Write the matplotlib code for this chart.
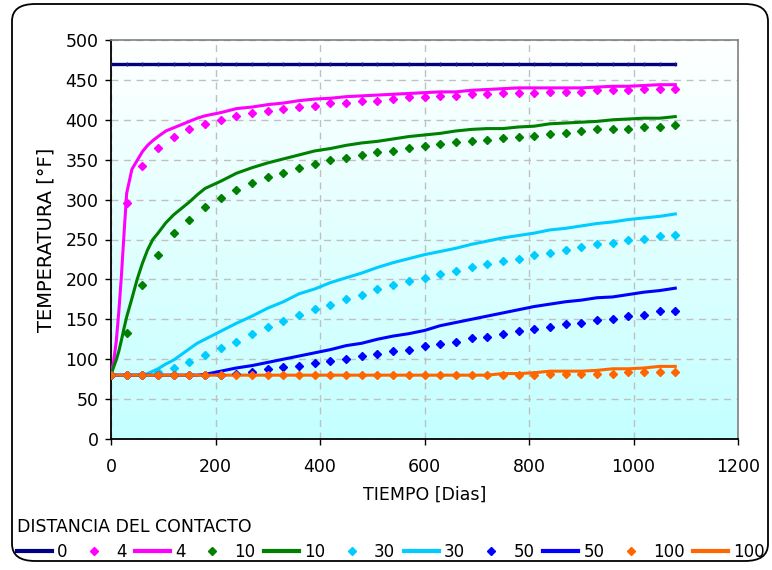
import numpy as np
import matplotlib
matplotlib.use('Agg')
import matplotlib.pyplot as plt
from matplotlib.colors import LinearSegmentedColormap
from matplotlib.patches import FancyBboxPatch
from matplotlib.lines import Line2D

plt.rcParams['font.family'] = ['DejaVu Sans']

# tiempos de los puntos simulados (cada 30 dias)
t_pts = [0, 30, 60, 90, 120, 150, 180, 210, 240, 270, 300, 330, 360, 390, 420, 450, 480, 510, 540,
         570, 600, 630, 660, 690, 720, 750, 780, 810, 840, 870, 900, 930, 960, 990, 1020, 1050, 1080]

pts_0 = [470] * 37
pts_4 = [80, 296, 342, 365, 379, 388, 395, 400, 405, 408, 411, 414, 416, 417, 421, 421, 423, 424, 426,
         428, 428, 430, 430, 432, 432, 434, 434, 434, 435, 435, 435, 437, 437, 437, 439, 439, 439]
pts_10 = [80, 133, 193, 231, 258, 275, 291, 302, 312, 321, 328, 333, 339, 344, 349, 352, 356, 360, 361,
          365, 367, 370, 372, 373, 375, 377, 379, 380, 382, 384, 386, 388, 388, 389, 391, 391, 393]
pts_30 = [80, 80, 80, 84, 89, 96, 105, 114, 122, 132, 140, 148, 156, 163, 168, 175, 181, 188, 193,
          198, 202, 207, 210, 215, 219, 223, 226, 230, 233, 237, 240, 244, 246, 249, 251, 254, 256]
pts_50 = [80, 80, 80, 80, 80, 80, 80, 80, 81, 84, 88, 90, 91, 95, 98, 100, 104, 107, 110,
          112, 116, 119, 122, 126, 128, 131, 135, 138, 140, 144, 145, 149, 151, 154, 156, 160, 161]
pts_100 = [80, 80, 80, 80, 80, 80, 80, 80, 80, 80, 80, 80, 80, 80, 80, 80, 80, 80, 80,
           80, 80, 80, 80, 80, 80, 80, 80, 80, 82, 82, 82, 82, 82, 84, 84, 84, 84]

# tiempos de las curvas analiticas
t_lin = [0, 5, 10, 15, 20, 25, 30, 40, 50, 60, 70, 80, 90, 105, 120, 135, 150, 165, 180,
         210, 240, 270, 300, 330, 360, 390, 420, 450, 480, 510, 540, 570, 600, 630,
         660, 690, 720, 750, 780, 810, 840, 870, 900, 930, 960, 990, 1020, 1050, 1080]

lin_0 = [0, 1080]
val_0 = [470, 470]
lin_4 = [80, 97, 122, 160, 205, 258, 308, 338, 349, 360, 368, 374, 379, 386, 390, 394, 398, 402, 405,
         409, 414, 416, 419, 421, 424, 426, 427, 429, 430, 431, 432, 433, 434, 435,
         435, 437, 438, 439, 440, 440, 440, 440, 440, 441, 442, 442, 443, 444, 444]
lin_10 = [80, 90, 99, 110, 124, 139, 153, 176, 200, 220, 237, 250, 258, 271, 281, 289, 297, 306, 314,
          323, 333, 340, 346, 351, 356, 361, 364, 368, 371, 373, 376, 379, 381, 383,
          386, 388, 389, 389, 391, 392, 395, 396, 397, 398, 400, 401, 402, 402, 404]
lin_30 = [80, 80, 80, 80, 80, 80, 80, 80, 80, 80, 82, 85, 88, 94, 99, 106, 113, 120, 125,
          135, 145, 154, 164, 172, 182, 188, 196, 202, 208, 215, 221, 226, 231, 235,
          239, 244, 248, 252, 255, 258, 262, 264, 267, 270, 272, 275, 277, 279, 282]
lin_50 = [80, 80, 80, 80, 80, 80, 80, 80, 80, 80, 80, 80, 80, 80, 80, 80, 80, 80, 81,
          85, 89, 92, 96, 100, 104, 108, 112, 117, 120, 125, 129, 132, 136, 142,
          146, 150, 154, 158, 162, 166, 169, 172, 174, 177, 178, 181, 184, 186, 189]
lin_100 = [80, 80, 80, 80, 80, 80, 80, 80, 80, 80, 80, 80, 80, 80, 80, 80, 80, 80, 80,
           80, 80, 80, 80, 80, 80, 80, 80, 80, 80, 80, 80, 80, 80, 80,
           80, 80, 80, 82, 82, 83, 85, 85, 85, 86, 88, 88, 89, 91, 91]

colores = {'0': '#000080', '4': '#ff00ff', '10': '#008000', '30': '#00ccff',
           '50': '#0000ff', '100': '#ff6600'}

fig = plt.figure(figsize=(7.72, 5.70), dpi=100)
W, H = 772, 570
ax = fig.add_axes([111 / W, 1 - 439 / H, (738 - 111) / W, 399 / H])

# fondo degradado blanco -> celeste
fondo = LinearSegmentedColormap.from_list('fondo', ['#ffffff', '#c4ffff'])
ax.imshow(np.linspace(0, 1, 256).reshape(-1, 1), extent=[0, 1, 0, 1], transform=ax.transAxes,
          aspect='auto', cmap=fondo, zorder=0)

ax.plot(lin_0, val_0, color=colores['0'], lw=2.4, zorder=3)
ax.plot(t_pts, pts_0, ls='none', marker='|', ms=3, mew=1, color='#202070', zorder=3)

series = [('4', pts_4, lin_4), ('10', pts_10, lin_10), ('30', pts_30, lin_30),
          ('50', pts_50, lin_50), ('100', pts_100, lin_100)]
for nombre, pts, lin in series:
    c = colores[nombre]
    ax.plot(t_lin, lin, color=c, lw=2.2, zorder=3)
    ax.plot(t_pts, pts, ls='none', marker='D', ms=4.5, color=c, mec=c, zorder=4)

ax.set_xlim(0, 1200)
ax.set_ylim(0, 500)
ax.set_xticks(range(0, 1201, 200))
ax.set_yticks(range(0, 501, 50))
ax.grid(True, color='#c0c0c0', ls=(0, (5, 4)), lw=1, zorder=1)
ax.set_axisbelow(True)
for lado in ['top', 'right']:
    ax.spines[lado].set_color('#808080')
    ax.spines[lado].set_linewidth(1.2)
for lado in ['left', 'bottom']:
    ax.spines[lado].set_color('black')
    ax.spines[lado].set_linewidth(1.3)
ax.tick_params(direction='out', length=4, width=1, labelsize=12.5, pad=5)
ax.tick_params(axis='x', pad=10)

ax.set_xlabel('TIEMPO [Dias]', fontsize=12.5, labelpad=7)
ax.set_ylabel('TEMPERATURA [°F]', fontsize=14)
ax.yaxis.set_label_coords(-56 / 627, 0.5)

# leyenda en una fila
handles, labels = [], []
for nombre in ['0', '4', '10', '30', '50', '100']:
    c = colores[nombre]
    if nombre != '0':
        handles.append(Line2D([], [], ls='none', marker='D', ms=4, color=c))
        labels.append(nombre)
    handles.append(Line2D([], [], color=c, lw=3))
    labels.append(nombre)
leg = fig.legend(handles, labels, ncol=11, loc='upper left', bbox_to_anchor=(17 / W, 1 - 518 / H),
                 frameon=False, fontsize=12, title='DISTANCIA DEL CONTACTO', title_fontsize=12.5,
                 handlelength=2.1, handletextpad=0.3, columnspacing=0.52, borderpad=0,
                 borderaxespad=0, labelspacing=0.4, alignment='left')

# marco redondeado
marco = FancyBboxPatch((12 / W, 9 / H), 756 / W, 557 / H, boxstyle='round,pad=0,rounding_size=0.03',
                       transform=fig.transFigure, fill=False, ec='black', lw=1.3)
fig.patches.append(marco)

fig.savefig('out.png', dpi=100)
